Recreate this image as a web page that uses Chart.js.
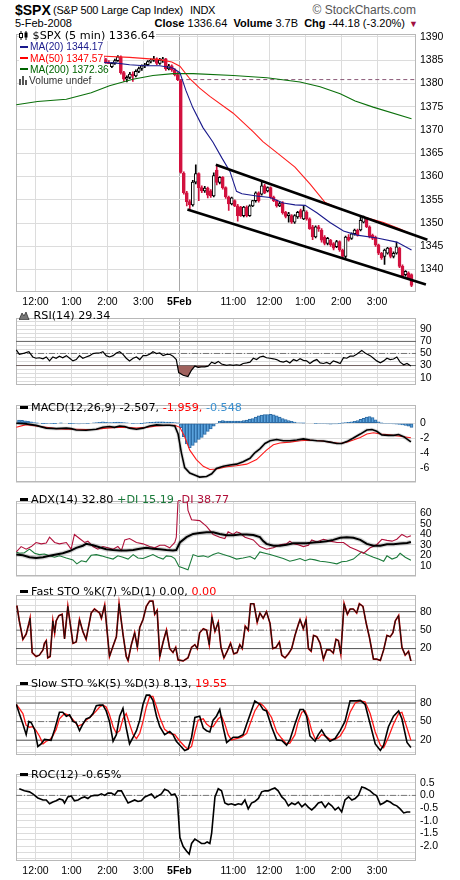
<!DOCTYPE html>
<html><head><meta charset="utf-8">
<script src="https://cdn.jsdelivr.net/npm/chart.js@4.4.1/dist/chart.umd.min.js"></script>
<style>
html,body{margin:0;padding:0;background:#fff}
body{width:460px;height:880px;position:relative;overflow:hidden;font-family:"Liberation Sans",Arial,sans-serif;color:#000}
canvas{position:absolute;left:0}
.t{position:absolute;white-space:nowrap;line-height:1}
.lg{position:absolute;left:19px;font-family:"DejaVu Sans",Verdana,sans-serif;font-size:11.2px;white-space:nowrap;z-index:5;line-height:11.3px}
.lg.main div{width:max-content;background:#fff;padding-right:1px}
.lg.main div.ma{font-family:"Liberation Sans",Arial,sans-serif;font-size:10.2px}
.d{display:inline-block;width:8px;height:3px;background:#000;vertical-align:middle;margin:0 3px 2px 1px}
.m{display:inline-block;width:8px;height:2px;vertical-align:middle;margin:0 2px 2px 1px}
svg{vertical-align:-1px}
</style></head><body>
<div class="t" style="left:15px;top:3px;font-size:14px;font-weight:bold">$SPX</div>
<div class="t" style="left:53px;top:4.5px;font-size:11px;letter-spacing:-0.2px">(S&amp;P 500 Large Cap Index)</div>
<div class="t" style="left:190px;top:4.5px;font-size:11px;letter-spacing:-0.3px">INDX</div>
<div class="t" style="right:44px;top:4px;font-size:12px;color:#555">© StockCharts.com</div>
<div class="t" style="left:15px;top:18px;font-size:11px">5-Feb-2008</div>
<div class="t" style="right:55px;top:18px;font-size:11px"><b>Close</b> 1336.64 &nbsp;<b>Volume</b> 3.7B &nbsp;<b>Chg</b> -44.18 (-3.20%)</div>
<div class="t" style="left:409px;top:20px;font-size:9px;color:#a01040">▼</div>

<canvas id="c1" width="460" height="287" style="top:24px"></canvas>
<canvas id="c2" width="460" height="88" style="top:308px"></canvas>
<canvas id="c3" width="460" height="98" style="top:395px"></canvas>
<canvas id="c4" width="460" height="96" style="top:491px"></canvas>
<canvas id="c5" width="460" height="91" style="top:585px"></canvas>
<canvas id="c6" width="460" height="91" style="top:675px"></canvas>
<canvas id="c7" width="460" height="116" style="top:764px"></canvas>

<div class="lg main" style="top:30px">
<div><svg width="10" height="9"><path d="M2 0v9M7 0v9" stroke="#000"/><rect x="0.5" y="2.5" width="3" height="4" fill="#fff" stroke="#000"/><rect x="5.5" y="1.5" width="3" height="5" fill="#000"/></svg> $SPX (5 min) 1336.64</div>
<div class="ma" style="color:#1a1a8c"><i class="m" style="background:#1a1a8c"></i>MA(20) 1344.17</div>
<div class="ma" style="color:#ff0000"><i class="m" style="background:#ff0000"></i>MA(50) 1347.57</div>
<div class="ma" style="color:#006400"><i class="m" style="background:#006400"></i>MA(200) 1372.36</div>
<div class="ma" style="color:#333"><svg width="10" height="9"><rect x="0" y="3" width="2" height="6" fill="#555"/><rect x="3" y="0" width="2" height="9" fill="#555"/><rect x="6" y="4" width="2" height="5" fill="#555"/></svg>Volume undef</div>
</div>
<div class="lg" style="top:310px"><svg width="11" height="9"><path d="M0 9L3 2L5 5L7 1L10 9Z" fill="#777" stroke="#333" stroke-width="0.8"/></svg> RSI(14) 29.34</div>
<div class="lg" style="top:402px"><i class="d"></i>MACD(12,26,9) -2.507, <span style="color:#ff0000">-1.959,</span> <span style="color:#3a90d0">-0.548</span></div>
<div class="lg" style="top:494px"><i class="d"></i>ADX(14) 32.80 <span style="color:#1a7a3a">+DI 15.19</span> <span style="color:#b0103a">-DI 38.77</span></div>
<div class="lg" style="top:586px"><i class="d"></i>Fast STO %K(7) %D(1) 0.00, <span style="color:#ff0000">0.00</span></div>
<div class="lg" style="top:678px"><i class="d"></i>Slow STO %K(5) %D(3) 8.13, <span style="color:#ff0000">19.55</span></div>
<div class="lg" style="top:769px"><i class="d"></i>ROC(12) -0.65%</div>

<script>
// ---- time axis (bar index: 0 = 12:00 on 4-Feb, 48 = 9:30 open on 5-Feb, 5-minute bars) ----
const timeTicks  = [0,12,24,36,48,54,66,78,90,102,114];
const timeLabels = ['12:00','1:00','2:00','3:00','5Feb','','11:00','12:00','1:00','2:00','3:00'];
const mainTicks  = [1340,1345,1350,1355,1360,1365,1370,1375,1380,1385,1390];
const prevClose  = 1380.82;

// ---- candles (first visible bar = index 21, 1:45 PM 4-Feb) ----
const firstBar = 21;
const opens = [1385.0,1385.8,1385.1,1384.5,1383.6,1384.3,1384.9,1385.7,1382.3,1380.9,1381.3,1382.0,1381.6,1382.6,1383.2,1383.8,1384.0,1384.7,1385.0,1385.3,1384.3,1385.0,1385.3,1383.1,1383.8,1382.9,1381.9,
1380.6,1360.7,1356.5,1354.6,1353.9,1358.8,1360.6,1357.6,1356.9,1357.5,1356.9,1355.8,1361.4,1358.7,1359.8,1357.6,1355.6,1354.1,1354.8,1353.7,1353.4,1351.6,1353.4,1351.6,1353.7,1354.8,1356.5,1356.2,1358.0,1356.9,1357.6,1355.6,1354.8,1353.7,1354.4,1352.3,1351.6,1351.6,1350.2,1351.3,1352.7,1350.9,1352.3,1350.9,1349.2,1347.0,1349.2,1348.5,1347.0,1345.6,1346.3,1345.6,1344.9,1346.0,1344.2,1342.8,1347.0,1346.7,1347.7,1348.5,1348.5,1350.2,1350.9,1349.2,1347.4,1347.0,1345.3,1343.5,1342.8,1343.5,1344.6,1342.8,1343.5,1344.6,1340.7,1338.9,1339.3,1338.9];
const highs = [1386.2,1386.0,1385.4,1384.9,1384.5,1385.2,1386.0,1385.9,1382.6,1381.6,1382.4,1382.5,1382.9,1383.5,1384.0,1384.3,1384.9,1385.3,1385.8,1385.5,1385.4,1385.6,1385.4,1384.1,1384.0,1383.2,1382.4,
1380.8,1361.0,1356.8,1355.0,1359.2,1362.5,1360.8,1358.0,1357.9,1357.7,1357.2,1360.8,1362.5,1360.0,1360.0,1357.8,1355.8,1355.6,1355.0,1354.0,1353.6,1353.6,1353.7,1353.9,1354.9,1356.7,1356.7,1358.9,1358.3,1357.8,1357.8,1355.8,1355.0,1354.5,1354.6,1352.5,1352.3,1351.8,1351.8,1352.5,1353.0,1353.7,1352.6,1351.1,1349.5,1349.4,1349.5,1348.8,1347.3,1346.9,1346.5,1345.8,1346.3,1346.2,1344.4,1347.2,1347.5,1347.9,1348.7,1348.7,1351.4,1351.5,1351.1,1349.4,1347.6,1347.2,1345.5,1343.7,1344.4,1344.8,1344.8,1343.8,1345.9,1344.8,1341.0,1339.8,1339.5,1339.1];
const lows = [1384.8,1384.9,1384.3,1383.3,1383.4,1384.1,1384.7,1382.0,1380.4,1380.3,1381.0,1380.4,1381.4,1382.3,1382.8,1383.4,1383.8,1384.4,1384.7,1384.0,1384.1,1384.5,1382.8,1382.9,1382.6,1381.6,1380.6,
1360.7,1356.2,1353.7,1352.9,1353.6,1358.4,1354.8,1356.5,1356.6,1355.4,1355.5,1355.6,1358.2,1358.4,1357.3,1355.3,1352.7,1353.9,1353.5,1350.4,1351.4,1351.3,1351.3,1351.4,1353.5,1354.5,1354.5,1356.0,1356.3,1356.7,1355.3,1354.6,1353.4,1353.5,1351.9,1351.1,1350.2,1349.9,1349.9,1351.0,1351.0,1350.7,1350.6,1348.6,1346.4,1346.8,1348.2,1345.9,1345.3,1345.3,1345.0,1344.2,1344.7,1343.9,1342.3,1342.5,1346.1,1346.5,1347.4,1347.2,1348.3,1350.0,1349.0,1346.8,1346.4,1345.0,1343.2,1342.2,1341.1,1343.3,1342.5,1342.5,1343.3,1340.4,1338.3,1338.6,1338.0,1336.3];
const closes = [1385.8,1385.1,1384.5,1383.6,1384.3,1384.9,1385.7,1382.3,1380.9,1381.3,1382.0,1381.6,1382.6,1383.2,1383.8,1384.0,1384.7,1385.0,1385.3,1384.3,1385.0,1385.3,1383.1,1383.8,1382.9,1381.9,1380.8,
1360.9,1356.5,1354.6,1353.9,1358.8,1360.6,1357.6,1356.9,1357.5,1356.0,1355.8,1360.2,1358.7,1359.8,1357.6,1355.6,1354.1,1355.4,1353.7,1351.6,1351.6,1353.4,1351.6,1353.7,1354.8,1356.5,1354.8,1358.0,1356.5,1357.6,1355.5,1354.8,1353.7,1354.2,1352.2,1351.4,1352.0,1350.2,1351.6,1352.3,1351.3,1352.7,1350.9,1348.8,1347.0,1349.2,1348.8,1346.3,1345.6,1346.7,1345.3,1344.6,1346.0,1344.2,1342.8,1347.0,1346.3,1347.7,1348.5,1347.4,1350.6,1351.3,1349.2,1347.0,1346.7,1345.3,1343.5,1342.5,1344.2,1344.6,1342.8,1343.5,1344.9,1340.7,1338.6,1339.6,1338.2,1336.6];

// ---- moving averages and channel: [bar position, price] ----
const ma20 = [[21.4,1384.5],[26.4,1384.4],[31.4,1384.0],[36.5,1383.8],[41.5,1383.8],[45.8,1383.3],[48.2,1382.3],[50.2,1378.5],[52.5,1374.8],[55.9,1370.5],[59.2,1367.4],[62.2,1364.0],[64.9,1361.1],[67.1,1356.8],[68.9,1356.3],[73.8,1355.8],[78.3,1355.5],[82.7,1354.3],[86.6,1353.9],[90.0,1353.8],[93.9,1352.2],[98.3,1350.1],[102.8,1348.3],[107.3,1347.4],[114.0,1346.8],[120.6,1345.9],[125.5,1344.2]];
const ma50 = [[21.4,1385.9],[31.4,1385.6],[41.5,1385.1],[45.5,1384.6],[48.2,1383.7],[51.5,1381.0],[54.8,1379.0],[58.2,1377.2],[66.0,1373.6],[72.7,1369.6],[75.9,1367.5],[81.6,1364.6],[86.6,1362.0],[91.6,1358.4],[96.7,1354.4],[101.7,1353.0],[109.0,1351.4],[116.2,1350.1],[121.7,1348.7],[125.5,1347.6]];
const ma200 = [[-6.4,1375.4],[0.7,1376.1],[10.3,1376.6],[18.6,1378.0],[24.7,1379.5],[32.5,1380.9],[39.2,1381.7],[45.9,1382.1],[52.6,1382.1],[66.0,1381.7],[77.2,1381.2],[88.3,1380.3],[95.0,1379.3],[101.7,1377.8],[106.7,1376.2],[112.7,1374.9],[125.5,1372.4]];
const chUpper = [[60.2,1362.5],[130.8,1346.4]];
const chLower = [[50.7,1352.9],[130.3,1336.8]];

// ---- indicators: [bar position, value] ----
const rsi = [[-6.4,55.9],[-5.4,48.6],[-3.7,50.7],[-2.2,52.9],[-0.9,44.2],[0.2,42.1],[1.3,42.9],[2.5,41.2],[3.6,44.2],[4.7,37.7],[5.8,44.2],[6.9,42.1],[8.0,45.5],[9.1,42.9],[10.3,46.4],[11.4,42.1],[12.5,37.7],[13.6,39.9],[14.7,46.4],[15.8,42.1],[16.9,44.2],[18.1,46.4],[19.2,49.9],[20.3,50.8],[21.4,50.8],[22.5,52.9],[23.6,46.4],[24.7,44.2],[25.9,46.4],[27.0,50.8],[28.1,52.9],[29.2,48.6],[30.3,42.1],[31.4,37.7],[32.6,42.1],[33.7,44.2],[34.8,39.9],[35.9,46.4],[37.0,46.4],[38.1,48.6],[39.2,52.9],[40.4,49.9],[41.5,50.8],[42.6,46.4],[43.7,48.6],[44.8,48.6],[45.9,45.5],[47.0,39.9],[47.8,18.3],[49.3,13.9],[50.9,11.8],[52.1,22.6],[53.2,29.1],[54.3,26.9],[55.4,27.8],[56.5,27.8],[57.6,29.1],[58.8,35.6],[59.9,33.4],[61.0,36.9],[62.1,32.6],[63.8,30.3],[64.9,31.3],[66.0,30.4],[67.1,31.3],[68.2,30.3],[69.3,33.4],[70.5,34.3],[71.6,35.6],[72.7,42.1],[73.8,39.9],[74.9,44.2],[76.0,45.5],[77.1,42.9],[78.3,42.1],[79.4,41.2],[80.5,39.9],[81.6,36.9],[82.7,35.6],[83.8,37.7],[84.9,34.3],[86.1,39.9],[87.2,37.7],[88.3,41.2],[89.4,38.6],[90.5,37.7],[91.6,33.4],[92.8,37.7],[93.9,39.9],[95.0,34.3],[96.1,33.4],[97.2,35.2],[98.3,32.6],[99.4,37.7],[100.6,35.6],[101.7,33.4],[102.8,42.9],[103.9,42.1],[105.0,45.5],[106.1,45.5],[107.2,48.6],[108.9,55.1],[110.0,50.8],[111.7,46.4],[112.8,42.1],[113.9,37.7],[115.1,34.7],[116.2,37.7],[117.3,42.1],[118.4,39.9],[119.5,40.8],[120.6,44.2],[121.7,35.6],[122.9,31.3],[124.0,33.4],[125.3,29.3]];
const rsiGrid = [3.33,10,16.67,23.33,30,36.67,43.33,50,56.67,63.33,70,76.67,83.33,90,96.67,103.33];
const rsiLabels = [10,30,50,70,90];

const macdLine = [[-6.4,0.00],[-3.1,-0.08],[0.2,-0.29],[3.6,-0.66],[6.9,-0.73],[10.3,-0.66],[11.9,-0.73],[13.6,-0.91],[16.9,-0.95],[20.3,-0.80],[22.5,-0.55],[24.7,-0.44],[26.4,-0.55],[28.1,-0.37],[29.8,-0.44],[31.4,-0.66],[33.7,-0.80],[35.9,-0.66],[38.1,-0.37],[40.4,-0.22],[42.6,-0.26],[44.8,-0.26],[46.5,-0.37],[47.6,-1.46],[48.7,-4.00],[49.8,-6.00],[51.5,-6.73],[53.7,-7.09],[54.8,-7.28],[57.1,-7.20],[58.8,-6.84],[60.4,-6.11],[62.7,-5.82],[64.9,-5.64],[67.1,-5.53],[69.3,-5.20],[71.6,-4.73],[73.2,-4.00],[74.9,-3.46],[76.6,-2.73],[78.3,-2.37],[80.5,-2.19],[82.7,-2.37],[84.9,-2.37],[87.2,-2.26],[89.4,-2.11],[91.6,-2.26],[93.9,-2.37],[96.1,-2.40],[98.3,-2.55],[100.6,-2.73],[102.2,-2.73],[103.9,-2.48],[106.1,-2.00],[108.4,-1.46],[110.6,-0.91],[112.3,-0.84],[113.9,-1.09],[115.6,-1.57],[117.8,-1.64],[119.5,-1.64],[121.2,-1.53],[122.9,-1.82],[125.3,-2.51]];
const macdSignal = [[-6.4,-0.55],[-3.1,-0.19],[0.2,-0.37],[3.6,-0.55],[6.9,-0.73],[10.3,-0.80],[13.6,-0.80],[16.9,-0.84],[20.3,-0.80],[23.6,-0.66],[27.0,-0.55],[30.3,-0.55],[33.7,-0.66],[37.0,-0.55],[40.4,-0.37],[43.7,-0.29],[46.5,-0.26],[48.2,-0.55],[49.8,-1.82],[51.5,-3.64],[53.7,-4.91],[56.0,-5.82],[58.2,-6.26],[60.4,-6.19],[63.8,-5.89],[67.1,-5.75],[70.5,-5.53],[73.8,-4.91],[77.1,-3.64],[79.4,-2.91],[81.6,-2.66],[84.9,-2.55],[88.3,-2.37],[91.6,-2.29],[95.0,-2.37],[98.3,-2.55],[101.7,-2.73],[103.9,-2.55],[106.1,-2.26],[108.4,-1.93],[110.6,-1.46],[112.8,-1.28],[115.1,-1.46],[117.3,-1.53],[119.5,-1.64],[121.7,-1.75],[125.3,-1.96]];
const histStart = -6;
const macdHist = [0.42,0.38,0.33,0.25,0.18,0.1,0.02,0,-0.02,-0.04,-0.07,-0.05,-0.02,0,0.02,0,0,-0.02,-0.04,-0.07,-0.08,-0.07,-0.06,-0.05,0,0.04,0.08,0.13,0.18,0.14,0.08,0.1,0.13,0.15,0.12,0.08,0.04,0,-0.03,-0.06,-0.06,-0.02,0.02,0.08,0.14,0.16,0.18,0.18,0.18,0.17,0.15,0.12,0.08,0.02,-0.6,-1.8,-2.8,-3.3,-3.0,-2.6,-2.2,-1.9,-1.5,-1.1,-0.75,-0.4,-0.07,0.25,0.36,0.3,0.28,0.3,0.29,0.28,0.29,0.35,0.42,0.55,0.65,0.85,1.0,1.1,1.16,1.18,1.2,1.15,1.02,0.85,0.65,0.5,0.35,0.25,0.15,0.07,0.04,0.02,0,0,0,-0.04,-0.07,-0.07,-0.07,-0.09,-0.11,-0.1,-0.08,-0.05,0.02,0.08,0.14,0.18,0.26,0.36,0.52,0.68,0.85,0.92,0.78,0.45,0.2,0.02,-0.07,-0.07,-0.07,-0.08,-0.11,-0.15,-0.22,-0.3,-0.4,-0.55];
const macdGrid = [2,0,-2,-4,-6,-8];
const macdLabels = [0,-2,-4,-6];

const adx = [[-6.4,20.7],[-4.2,20.0],[-2.0,18.2],[0.2,17.4],[2.5,18.2],[4.7,19.5],[6.9,20.7],[9.1,22.0],[11.4,24.1],[13.6,27.2],[15.8,29.2],[16.9,31.0],[19.2,29.7],[21.4,27.7],[23.6,25.9],[25.9,25.1],[28.1,24.6],[30.3,24.6],[32.6,25.1],[34.8,26.4],[37.0,27.2],[39.2,26.4],[41.5,25.9],[43.7,25.1],[45.9,24.6],[47.0,25.1],[48.2,32.3],[50.4,37.4],[52.6,40.5],[54.8,41.3],[57.1,42.1],[59.3,42.1],[61.5,40.5],[63.8,39.2],[66.0,39.2],[68.2,40.0],[70.5,40.0],[72.7,39.5],[74.9,37.4],[76.0,33.6],[77.1,31.0],[79.4,29.2],[81.6,29.2],[83.8,30.2],[86.1,31.5],[88.3,31.5],[90.5,31.5],[92.8,32.3],[95.0,32.8],[97.2,33.6],[99.4,34.8],[101.7,36.9],[103.9,37.4],[106.1,36.9],[108.4,34.8],[110.6,31.0],[112.8,29.2],[115.1,29.2],[117.3,30.7],[119.5,30.7],[121.7,31.3],[124.0,31.8],[125.3,32.8]];
const plusDI = [[-6.4,23.3],[-5.4,22.0],[-3.7,22.5],[-2.0,25.9],[-0.3,22.0],[1.3,20.7],[3.0,21.3],[4.7,19.5],[6.4,18.2],[8.0,19.5],[10.3,17.4],[12.5,15.6],[13.8,11.8],[15.3,14.8],[16.9,13.8],[18.6,20.0],[20.3,20.7],[22.0,19.5],[23.6,18.2],[25.9,16.4],[27.5,19.5],[29.2,18.2],[30.9,16.4],[32.6,20.7],[34.2,17.4],[35.9,16.9],[37.6,18.9],[39.2,20.7],[40.9,18.2],[42.6,16.4],[43.7,19.5],[45.4,18.9],[46.5,16.9],[47.9,9.2],[49.3,7.9],[50.9,6.1],[52.6,20.7],[54.3,18.9],[56.0,19.5],[57.6,18.2],[59.3,20.7],[61.0,22.5],[62.7,20.7],[64.9,18.9],[67.1,16.4],[69.3,17.4],[71.6,18.9],[73.2,16.4],[74.9,23.3],[76.6,22.0],[78.3,20.7],[80.5,18.9],[82.7,16.9],[84.9,14.3],[86.6,15.6],[88.3,16.9],[90.0,14.8],[91.6,16.4],[93.3,15.6],[95.0,14.3],[96.7,13.8],[98.3,13.1],[100.6,11.8],[102.2,13.8],[103.9,14.3],[106.1,16.4],[108.9,23.3],[110.6,20.7],[112.8,18.2],[114.5,16.4],[116.2,14.3],[117.3,19.5],[119.0,16.4],[120.6,18.2],[121.7,22.0],[123.4,18.2],[125.3,15.2]];
const minusDI = [[-6.4,23.3],[-4.8,28.4],[-3.1,25.9],[-1.4,28.4],[0.2,32.3],[1.9,31.0],[3.6,31.8],[4.7,37.4],[6.4,32.3],[8.0,31.0],[10.3,32.3],[11.9,25.9],[13.0,40.0],[14.7,36.1],[16.4,32.3],[17.5,33.6],[19.2,28.4],[20.8,25.9],[22.5,28.4],[24.2,27.2],[25.9,25.9],[27.5,28.4],[28.7,24.6],[29.8,34.8],[31.4,36.1],[33.7,32.3],[35.9,31.0],[38.1,28.4],[39.8,27.2],[41.5,29.7],[43.1,29.7],[44.8,27.2],[46.5,32.3],[47.0,37.4],[47.9,92],[49.3,98],[50.4,80],[50.9,63.1],[52.1,54.1],[54.8,53.3],[57.1,47.7],[59.3,40.0],[61.5,37.4],[63.2,36.1],[64.3,42.5],[66.0,40.0],[67.1,42.5],[68.2,41.3],[69.9,37.4],[72.7,34.8],[74.9,28.4],[77.1,25.9],[79.4,27.2],[81.6,30.2],[83.8,31.0],[84.9,33.6],[86.1,31.0],[87.7,30.2],[89.4,28.4],[91.1,29.7],[92.2,34.8],[93.9,32.8],[96.1,35.4],[98.3,33.6],[100.6,32.3],[102.8,32.3],[105.0,27.7],[107.2,25.1],[109.5,22.0],[111.7,27.2],[113.9,30.2],[115.6,35.4],[117.3,34.3],[119.0,33.6],[120.6,35.4],[122.3,40.0],[124.0,37.4],[125.3,38.8]];
const adxGrid = [0,10,20,30,40,50,60,70];
const adxLabels = [10,20,30,40,50,60];

const fastK = [[-6.2,89.8],[-5.4,65.0],[-4.2,35.0],[-3.1,43.6],[-2.2,60.7],[-1.8,69.3],[-1.1,13.6],[0.2,7.2],[1.3,9.3],[2.5,17.9],[3.0,28.6],[3.6,32.9],[4.1,5.0],[4.9,7.2],[5.8,65.0],[6.4,45.7],[6.9,65.0],[7.8,73.6],[8.9,75.7],[9.7,35.9],[10.8,88.6],[12.5,28.6],[13.6,30.7],[14.7,67.2],[15.8,47.9],[16.9,35.0],[18.6,77.9],[19.7,84.3],[21.4,77.9],[22.0,69.3],[23.1,90.7],[24.7,7.2],[25.9,24.3],[27.0,39.3],[27.9,92.9],[29.2,43.6],[30.3,7.2],[30.9,0.7],[32.0,26.4],[33.1,45.7],[34.0,22.2],[34.8,54.3],[35.9,67.2],[37.0,88.6],[38.1,97.1],[39.2,97.1],[39.8,75.7],[40.6,82.2],[41.5,7.2],[42.6,30.7],[43.7,50.0],[44.8,20.0],[45.9,13.6],[46.8,22.2],[47.6,1.6],[49.3,0],[50.9,5.0],[52.1,22.2],[53.2,26.4],[54.0,20.0],[54.8,45.7],[56.0,52.2],[57.1,50.0],[58.0,26.4],[58.9,71.4],[59.9,47.9],[61.0,62.9],[61.9,22.2],[62.9,5.0],[64.0,15.7],[65.1,28.6],[66.2,11.4],[67.3,13.6],[68.2,26.4],[69.0,20.0],[70.0,56.4],[71.0,50.0],[71.8,92.9],[72.9,92.9],[74.0,62.9],[74.9,77.9],[76.0,69.3],[77.1,80.0],[78.3,60.7],[79.2,20.0],[80.3,22.2],[81.4,30.7],[82.2,9.3],[83.3,5.0],[84.4,11.4],[85.5,20.0],[86.6,41.4],[87.7,58.6],[88.3,67.2],[89.4,52.2],[90.3,67.2],[91.1,20.0],[92.0,15.7],[92.8,41.4],[93.9,39.3],[95.0,28.6],[96.1,2.9],[97.2,17.9],[98.3,17.9],[99.4,12.7],[100.3,35.0],[101.1,32.9],[101.9,11.4],[103.0,92.9],[104.1,75.7],[105.0,84.3],[106.1,84.3],[107.2,77.9],[108.1,92.9],[109.3,88.6],[110.4,60.7],[111.5,37.2],[112.8,2.9],[113.9,2.9],[115.1,0.7],[116.2,17.9],[117.3,41.4],[118.4,39.3],[119.3,45.7],[120.1,65.0],[121.2,73.6],[122.3,22.2],[123.4,9.3],[124.5,15.7],[125.3,0]];
const fastD = fastK; // %D(1) equals %K
const slowK = [[-6.4,77.9],[-5.4,63.0],[-4.2,46.0],[-3.1,28.9],[-2.2,50.2],[-1.4,48.1],[-0.3,37.4],[0.8,9.8],[1.9,14.0],[3.0,21.3],[4.1,20.4],[5.2,19.6],[6.4,37.4],[8.0,65.1],[9.1,65.1],[10.3,58.7],[11.4,60.9],[12.5,50.2],[13.6,48.1],[14.7,35.3],[15.8,46.0],[16.9,54.5],[18.1,56.6],[19.2,63.0],[20.3,75.7],[21.4,76.6],[22.5,76.6],[23.6,67.2],[24.7,50.2],[25.9,18.3],[27.0,28.9],[28.1,58.7],[29.2,71.5],[30.3,39.6],[31.4,14.0],[32.6,24.7],[33.7,35.3],[34.8,52.3],[35.9,77.9],[37.0,92.8],[38.1,92.8],[39.2,84.3],[40.4,58.7],[41.5,41.7],[43.1,28.9],[44.8,34.0],[45.9,28.9],[47.0,18.3],[48.2,11.9],[49.8,3.4],[50.9,5.5],[52.1,24.7],[53.2,56.6],[54.8,58.7],[56.0,39.6],[57.1,35.3],[58.2,33.2],[59.3,52.3],[60.4,58.7],[61.5,69.4],[62.7,39.6],[63.8,16.2],[64.9,20.4],[66.0,24.7],[67.7,24.7],[69.3,28.9],[70.5,46.0],[71.6,60.9],[73.2,83.4],[74.9,77.9],[76.0,69.4],[77.1,67.2],[78.8,41.7],[80.5,20.4],[82.2,19.6],[83.8,11.9],[84.9,20.4],[86.6,46.0],[88.3,69.4],[89.4,69.4],[90.5,58.7],[91.6,26.8],[93.3,18.3],[94.4,28.9],[95.5,36.6],[96.7,26.8],[98.3,18.3],[100.0,22.6],[101.7,35.3],[103.3,50.2],[105.0,83.4],[107.2,83.4],[108.4,84.3],[110.0,77.9],[111.7,46.0],[113.4,14.0],[115.1,3.4],[116.2,11.9],[117.8,41.7],[119.5,58.7],[121.2,67.2],[122.3,54.5],[124.0,16.2],[125.3,8.1]];
const slowD = [[-6.4,77.9],[-5.4,71.5],[-4.2,63.0],[-3.1,43.8],[-2.0,40.9],[-0.9,41.7],[0.2,35.3],[1.3,26.8],[2.5,14.0],[3.6,18.3],[4.7,20.4],[5.8,26.8],[6.9,37.4],[8.0,54.5],[9.7,63.0],[10.8,60.9],[11.9,56.6],[13.0,50.2],[14.2,42.6],[15.8,46.0],[16.9,52.3],[18.6,58.7],[20.3,67.2],[21.4,73.6],[22.5,76.6],[23.6,73.6],[24.7,60.9],[25.9,41.7],[27.0,31.1],[28.1,35.3],[29.2,54.5],[30.3,63.0],[31.4,46.0],[32.6,28.9],[33.7,22.6],[34.8,31.1],[35.9,50.2],[37.0,73.6],[38.1,90.6],[39.2,90.6],[40.4,73.6],[41.5,56.6],[43.1,37.4],[44.8,31.1],[46.5,28.9],[48.2,18.3],[49.8,9.8],[50.9,5.5],[52.1,9.8],[53.2,33.2],[54.3,52.3],[56.0,54.5],[57.1,46.0],[58.2,41.7],[59.3,41.7],[61.0,54.5],[62.1,58.7],[63.2,46.0],[64.3,28.9],[65.4,20.4],[67.1,22.6],[68.8,24.7],[70.5,31.1],[71.6,46.0],[73.2,67.2],[74.9,80.0],[76.0,75.7],[77.1,69.4],[78.8,56.6],[80.5,33.2],[82.2,22.6],[83.8,14.0],[84.9,15.3],[86.6,28.9],[87.7,50.2],[88.9,65.1],[90.0,67.2],[91.1,54.5],[92.2,35.3],[93.3,22.6],[94.4,22.6],[95.5,28.9],[96.7,26.8],[98.3,21.3],[100.0,21.3],[101.7,26.8],[103.3,39.6],[105.0,65.1],[106.7,80.0],[108.4,83.4],[110.0,82.1],[111.7,63.0],[113.4,33.2],[115.1,11.9],[116.2,7.7],[117.8,24.7],[119.5,46.0],[121.2,63.0],[122.3,65.1],[124.0,39.6],[125.3,19.6]];
const stoGrid = [0,10,20,30,40,50,60,70,80,90,100];
const stoLabels = [20,50,80];

const roc = [[-5.4,0.26],[-3.7,0.18],[-2.0,0.14],[-0.9,0.06],[0.8,-0.10],[2.5,-0.18],[3.6,-0.18],[4.7,-0.33],[5.8,-0.26],[6.9,-0.21],[8.0,-0.14],[9.1,-0.18],[9.7,-0.30],[10.8,-0.06],[11.9,-0.02],[13.0,-0.21],[14.2,-0.18],[15.3,-0.10],[16.4,-0.06],[17.5,-0.12],[18.6,-0.02],[19.7,0.00],[20.8,0.00],[22.0,0.06],[23.1,0.00],[24.2,0.09],[25.3,0.09],[26.4,0.02],[27.5,0.18],[28.7,0.18],[29.8,-0.06],[30.9,-0.30],[32.0,-0.24],[33.1,-0.18],[34.2,-0.24],[35.3,-0.21],[36.5,-0.06],[37.6,0.00],[38.7,0.06],[39.8,-0.10],[40.9,-0.02],[42.0,0.06],[43.1,0.24],[44.3,0.18],[45.4,0.02],[46.5,0.06],[47.3,-0.12],[48.2,-1.66],[49.3,-2.01],[50.4,-2.19],[51.3,-2.31],[52.1,-1.89],[53.2,-1.72],[54.3,-1.80],[55.4,-1.89],[56.5,-1.89],[57.3,-1.83],[58.2,-1.89],[58.8,-1.48],[59.9,-0.06],[61.0,0.26],[62.1,0.18],[63.2,-0.30],[64.3,-0.36],[65.4,-0.33],[66.6,-0.38],[67.7,-0.33],[68.8,-0.36],[69.9,-0.18],[71.0,-0.53],[72.1,-0.30],[73.2,-0.24],[74.4,-0.12],[75.5,0.14],[76.6,0.18],[77.7,0.18],[78.8,0.24],[79.9,0.29],[81.0,0.18],[82.2,-0.06],[83.3,-0.18],[84.4,-0.41],[85.5,-0.30],[86.6,-0.36],[87.7,-0.26],[88.9,-0.45],[90.0,-0.33],[91.1,-0.47],[92.2,-0.57],[93.3,-0.45],[94.4,-0.30],[95.5,-0.26],[96.7,-0.47],[97.8,-0.30],[98.9,-0.41],[100.0,-0.57],[101.1,-0.47],[102.2,-0.65],[103.3,-0.18],[104.5,-0.06],[105.6,-0.18],[106.7,-0.12],[107.8,0.00],[108.9,0.33],[110.0,0.29],[111.7,0.18],[112.8,0.06],[113.9,-0.02],[115.1,-0.36],[116.2,-0.30],[117.3,-0.21],[118.4,-0.26],[119.5,-0.36],[120.6,-0.41],[121.7,-0.53],[122.9,-0.69],[124.0,-0.65],[125.1,-0.65]];
const rocGrid = [0.75,0.5,0.25,0,-0.25,-0.5,-0.75,-1,-1.25,-1.5,-1.75,-2,-2.25,-2.5];
const rocLabels = [0.5,0,-0.5,-1,-1.5,-2];

// ---- drawing ----
const XMIN = -6.5, XMAX = 127;
const GRID = '#dcdcdc', SEP = '#a8a8a8', RED = '#d2123f';
const FAM = '"Liberation Sans", Arial, sans-serif';
const pts = a => a.map(p => ({x: p[0], y: p[1]}));
const ln = (a, color, w, order, extra) => Object.assign({type:'line', data: pts(a), borderColor: color, borderWidth: w, pointRadius: 0, tension: 0, fill: false, order: order}, extra || {});
const hl = (v, color, dash, from) => ({type:'line', data:[{x: from === undefined ? XMIN : from, y: v},{x: XMAX, y: v}], borderColor: color, borderWidth: 1, borderDash: dash || [], pointRadius: 0, fill: false, order: 20});
const DASHDOT = [6,2,1,2];

const frame = {id:'frame', beforeDatasetsDraw(c){const a=c.chartArea,x=c.ctx;x.save();x.strokeStyle='#b8b8b8';x.lineWidth=1;x.strokeRect(Math.round(a.left)+0.5,Math.round(a.top)+0.5,Math.round(a.right-a.left)-1,Math.round(a.bottom-a.top)-1);x.restore();}};

function panel(id, cfg){
  const showX = !!cfg.showX;
  return new Chart(document.getElementById(id), {
    type: 'bar',
    data: {datasets: cfg.datasets},
    options: {
      responsive: false, animation: false, devicePixelRatio: 1, events: [],
      layout: {padding: {left: 16, right: 0, top: cfg.padTop || 1, bottom: showX ? 0 : 1}},
      plugins: {legend: {display: false}, tooltip: {enabled: false}},
      scales: {
        x: {type: 'linear', min: XMIN, max: XMAX, offset: false,
          afterBuildTicks: s => { s.ticks = timeTicks.map(v => ({value: v})); },
          afterFit: s => { s.height = showX ? 19 : 0; },
          grid: {offset: false, drawTicks: false, color: c => (c.tick && c.tick.value === 48) ? SEP : GRID},
          border: {display: false},
          ticks: {display: showX, autoSkip: false, maxRotation: 0, padding: 4, color: '#000',
            font: c => ({family: FAM, size: 10.5, weight: (c.tick && c.tick.value === 48) ? 'bold' : 'normal'}),
            callback: (v, i) => timeLabels[i]}},
        y: {type: 'linear', position: 'right', min: cfg.min, max: cfg.max,
          afterBuildTicks: s => { s.ticks = cfg.grid.map(v => ({value: v})); },
          afterFit: s => { s.width = 44; },
          grid: {drawTicks: false, color: GRID},
          border: {display: false},
          ticks: {autoSkip: false, padding: 4, color: '#000', font: {family: FAM, size: 10.5},
            callback: v => { const L = cfg.labels.find(l => Math.abs(l - v) < 1e-6); return L === undefined ? '' : cfg.fmt(L); }}}
      }
    },
    plugins: [frame]
  });
}

const up = closes.map((c, k) => c >= opens[k]);
panel('c1', {min: 1335.18, max: 1390.55, padTop: 7, showX: true, grid: mainTicks, labels: mainTicks, fmt: v => String(v),
  datasets: [
    hl(prevClose, '#8a5a78', [4,3], 48),
    {type:'bar', grouped:false, order: 8, barThickness: 1,
     data: lows.map((l, k) => ({x: firstBar + k + 0.5, y: [l, highs[k]]})),
     backgroundColor: up.map(u => u ? '#000' : RED)},
    {type:'bar', grouped:false, order: 7, barThickness: 3, minBarLength: 1, borderWidth: 1, borderSkipped: false,
     data: opens.map((o, k) => ({x: firstBar + k + 0.5, y: [Math.min(o, closes[k]), Math.max(o, closes[k])]})),
     backgroundColor: up.map(u => u ? '#fff' : RED), borderColor: up.map(u => u ? '#000' : RED)},
    ln(ma200, '#0b700b', 1.1, 4),
    ln(ma50, '#ff1e1e', 1.1, 4),
    ln(ma20, '#1a1a8c', 1.1, 3),
    ln(chUpper, '#000', 2.6, 1, {clip: false}),
    ln(chLower, '#000', 2.6, 1, {clip: false})
  ]});

panel('c2', {min: -3.4, max: 108.3, grid: rsiGrid, labels: rsiLabels, fmt: v => String(v),
  datasets: [hl(70, '#666'), hl(30, '#666'), hl(50, '#777', DASHDOT),
    ln(rsi, '#000', 1.2, 1, {fill: {target: {value: 30}, above: 'rgba(0,0,0,0)', below: '#a0625e'}})]});

panel('c3', {min: -8.04, max: 2.43, grid: macdGrid, labels: macdLabels, fmt: v => String(v),
  datasets: [
    {type:'bar', grouped:false, order: 9, barThickness: 3, borderWidth: 1, borderSkipped: false,
     data: macdHist.map((v, k) => ({x: histStart + k + 0.5, y: v})),
     backgroundColor: '#5aa2dc', borderColor: '#2c6aa3'},
    ln(macdSignal, '#ff1a1a', 1.1, 3),
    ln(macdLine, 'rgba(0,0,0,0.14)', 3.5, 2),
    ln(macdLine, '#000', 1.6, 1)]});

panel('c4', {min: -0.5, max: 71.8, grid: adxGrid, labels: adxLabels, fmt: v => String(v),
  datasets: [
    ln(plusDI, '#1a7a3a', 1.1, 4),
    ln(minusDI, '#b0103a', 1.1, 3),
    ln(adx, 'rgba(0,0,0,0.16)', 4.5, 2),
    ln(adx, '#000', 2, 1)]});

panel('c5', {min: -7.8, max: 106.6, grid: stoGrid, labels: stoLabels, fmt: v => String(v),
  datasets: [hl(80, '#555'), hl(20, '#555'), hl(50, '#777', DASHDOT),
    ln(fastD, '#c00000', 1.7, 2), ln(fastK, '#111', 1.0, 1)]});

panel('c6', {min: -5.1, max: 108.6, grid: stoGrid, labels: stoLabels, fmt: v => String(v),
  datasets: [hl(80, '#555'), hl(20, '#555'), hl(50, '#777', DASHDOT),
    ln(slowD, '#ff1a1a', 1.3, 2), ln(slowK, '#000', 1.6, 1)]});

panel('c7', {min: -2.58, max: 0.83, showX: true, grid: rocGrid, labels: rocLabels, fmt: v => v.toFixed(1),
  datasets: [hl(0, '#777', DASHDOT), ln(roc, '#000', 1.6, 1)]});
</script>
</body></html>
